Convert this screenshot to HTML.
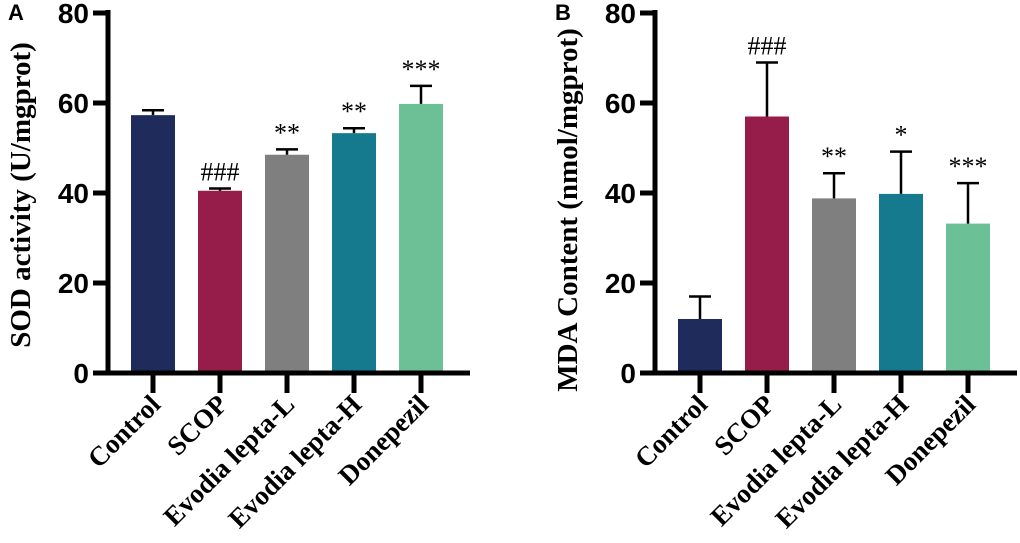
<!DOCTYPE html>
<html><head><meta charset="utf-8"><style>
body{margin:0;background:#fff;}
svg{display:block;}
.tk{font-family:"Liberation Sans",sans-serif;font-weight:bold;font-size:28px;fill:#000;}
.ti{font-family:"Liberation Serif",serif;font-weight:bold;font-size:29px;fill:#000;}
.ct{font-family:"Liberation Serif",serif;font-weight:bold;font-size:27px;fill:#000;}
.sg{font-family:"Liberation Serif",serif;font-size:26px;fill:#000;}
.pl{font-family:"Liberation Sans",sans-serif;font-weight:bold;font-size:22px;fill:#000;}
</style></head><body>
<svg id="chart" width="1020" height="543"></svg>
<script>
const categories=["Control","SCOP","Evodia lepta-L","Evodia lepta-H","Donepezil"];
const colors=["#1f2b5b","#961d4a","#7f7f7f","#167a8f","#6bc195"];
const sodValues=[57.3,40.5,48.5,53.3,59.8];
const sodErrors=[1.1,0.5,1.2,1.1,4.0];
const sodSig=["","###","**","**","***"];
const mdaValues=[12,57,38.8,39.8,33.2];
const mdaErrors=[5,12,5.6,9.4,9];
const mdaSig=["","###","**","*","***"];
const yTicks=[0,20,40,60,80];
const NS="http://www.w3.org/2000/svg";
const svg=document.getElementById('chart');
function mk(t,a,p){const e=document.createElementNS(NS,t);for(const k in a)e.setAttribute(k,a[k]);(p||svg).appendChild(e);return e;}
function panel(ox,letter,title,vals,errs,sig,key,tcy){
  const g=mk('g',{});
  
  
  const y0=373,ppu=4.5,axX=ox,axEnd=ox+362;
  const yS=v=>y0-v*ppu;
  const xS=i=>ox+23+i*67;
  const bw=44;
  vals.forEach((v,i)=>{
    const r=mk('rect',{x:xS(i),y:yS(v),width:bw,height:v*ppu,fill:colors[i]},g);
    
    
    const cx=xS(i)+bw/2,ye=yS(v+errs[i]);
    const e=mk('path',{d:`M${cx},${yS(v)}V${ye}M${cx-11},${ye}H${cx+11}`,stroke:'#000','stroke-width':2.5,fill:'none'},g);
    
    
    if(sig[i]){const t=mk('text',{x:cx,y:ye-8,'text-anchor':'middle',class:'sg'},g);t.textContent=sig[i];
      
      }
    mk('line',{x1:cx,x2:cx,y1:y0,y2:y0+20,stroke:'#000','stroke-width':5},g);
    const c=mk('text',{x:cx+9,y:y0+33,'text-anchor':'end',class:'ct',transform:`rotate(-45 ${cx+9} ${y0+33})`},g);
    c.textContent=categories[i];
    
    
  });
  const ax=mk('path',{d:`M${axX},${yS(80)-3}V${y0}M${axX-3},${y0}H${axEnd}`,stroke:'#000','stroke-width':5,fill:'none'},g);
  
  
  yTicks.forEach(v=>{
    mk('line',{x1:axX-15,x2:axX,y1:yS(v),y2:yS(v),stroke:'#000','stroke-width':5},g);
    const t=mk('text',{x:axX-19,y:yS(v)+10,'text-anchor':'end',class:'tk'},g);t.textContent=v;
    
    
  });
  const tt=mk('text',{x:0,y:0,'text-anchor':'middle',class:'ti',transform:`translate(${ox-78},${tcy}) rotate(-90)`},g);
  tt.textContent=title;
  
  
  const pl=mk('text',{x:ox-100,y:20,class:'pl'},g);pl.textContent=letter;
  
  
}
panel(108,'A','SOD activity (U/mgprot)',sodValues,sodErrors,sodSig,'sod',195);
panel(655,'B','MDA Content (nmol/mgprot)',mdaValues,mdaErrors,mdaSig,'mda',210);
</script>
</body></html>
